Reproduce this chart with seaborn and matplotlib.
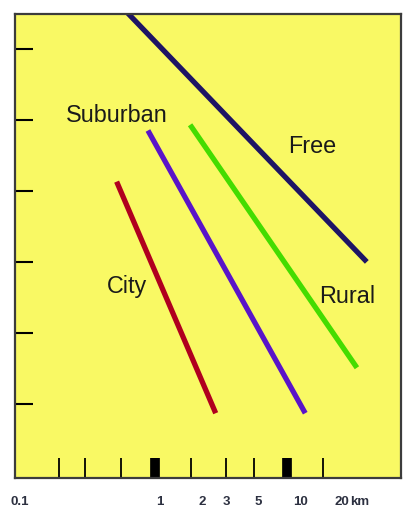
import matplotlib
matplotlib.use("Agg")
import matplotlib.pyplot as plt
from matplotlib.ticker import FixedLocator, NullFormatter
import pandas as pd
import seaborn as sns

# Propagation curves: received level falling with distance for each environment
environments = ["Free", "Rural", "Suburban", "City"]
start_km = [0.59, 1.64, 0.82, 0.49]
end_km = [30.0, 25.5, 10.9, 2.5]
start_level = [6.5, 4.93, 4.85, 4.13]
end_level = [3.0, 1.51, 0.87, 0.87]

# Where each curve's name is written
label_km = [12.2, 21.7, 0.49, 0.58]
label_level = [4.63, 2.52, 5.06, 2.65]

# Axis furniture
tick_km = [0.19, 0.29, 0.53, 1.66, 2.96, 4.7, 14.6]
heavy_tick_km = [0.92, 8.1]
level_ticks = [1, 2, 3, 4, 5, 6]
axis_values = [0.1, 1, 2, 3, 5, 10, 20]
axis_labels = ["0.1", "1", "2", "3", "5", "10", "20"]
unit_label = "km"

colors = {
    "Free": "#1e1464",
    "Rural": "#44dc00",
    "Suburban": "#5a14c8",
    "City": "#b0001e",
}

rows = []
for env, x0, x1, y0, y1 in zip(environments, start_km, end_km, start_level, end_level):
    rows.append({"environment": env, "distance": x0, "level": y0})
    rows.append({"environment": env, "distance": x1, "level": y1})
df = pd.DataFrame(rows)

sns.set_style("white")
plt.rcParams["font.family"] = ["Liberation Sans", "DejaVu Sans"]

fig = plt.figure(figsize=(4.03, 5.07), dpi=100)
ax = fig.add_axes([15 / 403, 29 / 507, 386 / 403, 464 / 507])
ax.set_facecolor("#f9f964")
ax.set_xscale("log")

sns.lineplot(
    data=df, x="distance", y="level", hue="environment",
    palette=colors, linewidth=3.8, legend=False, ax=ax,
    estimator=None, sort=False,
)
for line in ax.get_lines():
    line.set_solid_capstyle("butt")

ax.set_xlim(0.0921, 52.65)
ax.set_ylim(-0.042, 6.49)
ax.set_xlabel("")
ax.set_ylabel("")

for env, x, y in zip(environments, label_km, label_level):
    ax.text(x, y, env, ha="center", va="center", fontsize=16.8, color="#1a1a1a")

# Ticks point inward; the two heavy marks are drawn as minor ticks
ax.xaxis.set_major_locator(FixedLocator(tick_km))
ax.xaxis.set_minor_locator(FixedLocator(heavy_tick_km))
ax.xaxis.set_major_formatter(NullFormatter())
ax.xaxis.set_minor_formatter(NullFormatter())
ax.yaxis.set_major_locator(FixedLocator(level_ticks))
ax.yaxis.set_major_formatter(NullFormatter())
ax.tick_params(axis="x", which="major", direction="in", length=14.5, width=1.3,
               color="black", bottom=True, top=False)
ax.tick_params(axis="x", which="minor", direction="in", length=14.5, width=7,
               color="black", bottom=True, top=False)
ax.tick_params(axis="y", which="major", direction="in", length=13, width=1.5,
               color="black", left=True, right=False)

for spine in ax.spines.values():
    spine.set_visible(True)
    spine.set_color("#3c3c3c")
    spine.set_linewidth(1.6)

xaxis_tf = ax.get_xaxis_transform()
for v, txt in zip(axis_values, axis_labels):
    ax.annotate(txt, xy=(v, 0), xycoords=xaxis_tf, xytext=(0, -17),
                textcoords="offset points", ha="center", va="center",
                fontsize=9.5, fontweight="bold", color="#2c3040",
                annotation_clip=False)
ax.annotate(unit_label, xy=(axis_values[-1], 0), xycoords=xaxis_tf,
            xytext=(5.5, -17), textcoords="offset points", ha="left",
            va="center", fontsize=9.5, fontweight="bold", color="#2c3040",
            annotation_clip=False)

fig.savefig("out.png", dpi=100)
